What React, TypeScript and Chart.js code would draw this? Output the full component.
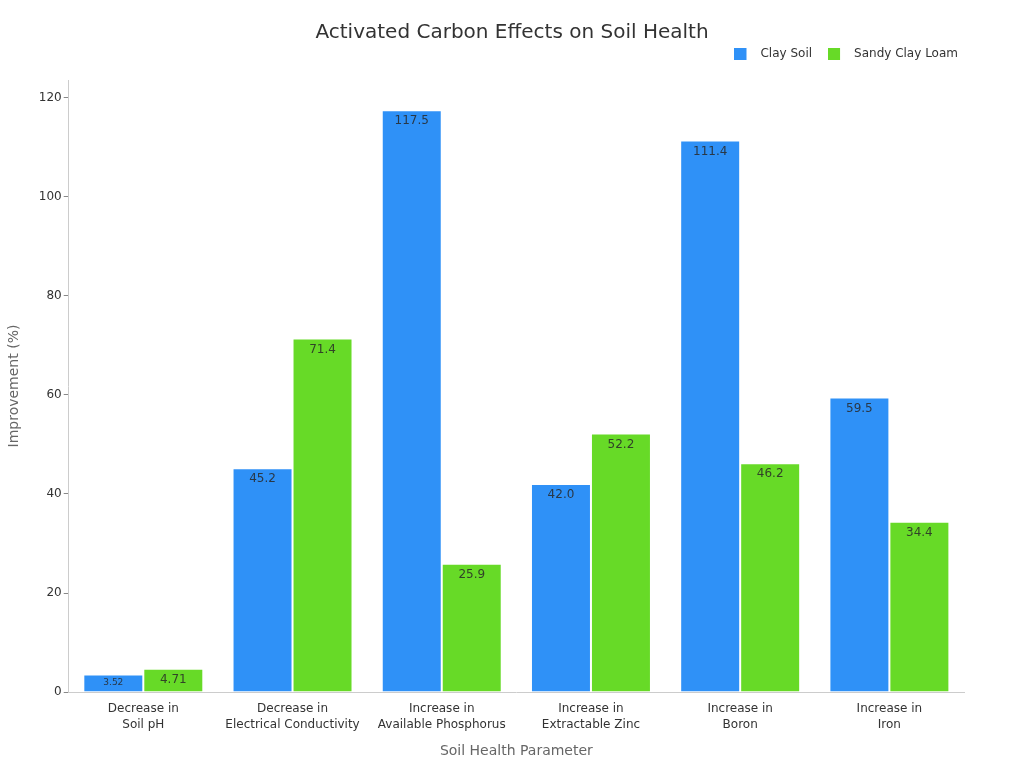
import React, { useEffect, useRef } from 'react';
import { Chart, registerables } from 'chart.js';

Chart.register(...registerables);

const categories: string[][] = [
  ['Decrease in', 'Soil pH'],
  ['Decrease in', 'Electrical Conductivity'],
  ['Increase in', 'Available Phosphorus'],
  ['Increase in', 'Extractable Zinc'],
  ['Increase in', 'Boron'],
  ['Increase in', 'Iron'],
];
const claySoil = [3.52, 45.2, 117.5, 42.0, 111.4, 59.5];
const sandyClayLoam = [4.71, 71.4, 25.9, 52.2, 46.2, 34.4];
const clayLabels = ['3.52', '45.2', '117.5', '42.0', '111.4', '59.5'];
const sandyLabels = ['4.71', '71.4', '25.9', '52.2', '46.2', '34.4'];
const yTicks = [0, 20, 40, 60, 80, 100, 120];

const FONT = "'DejaVu Sans', sans-serif";
const BLUE = '#2F91F7';
const GREEN = '#67DA27';

// draws the value text just inside the top of each bar
const barLabels = {
  id: 'barLabels',
  afterDatasetsDraw(chart: any) {
    const ctx = chart.ctx;
    const texts = [clayLabels, sandyLabels];
    chart.data.datasets.forEach((_ds: any, di: number) => {
      const meta = chart.getDatasetMeta(di);
      meta.data.forEach((bar: any, i: number) => {
        const h = bar.base - bar.y;
        const small = h < 20;
        ctx.save();
        ctx.font = `${small ? 9 : 12}px ${FONT}`;
        ctx.fillStyle = 'rgba(40,40,40,0.85)';
        ctx.textAlign = 'center';
        ctx.textBaseline = 'middle';
        ctx.fillText(texts[di][i], bar.x, bar.y + Math.min(11, h / 2));
        ctx.restore();
      });
    });
  },
};

// title centred on the whole canvas, plus some legend spacing tweaks
const titleAndLegend = {
  id: 'titleAndLegend',
  beforeInit(chart: any) {
    const legend = chart.legend;
    if (!legend) return;
    const fit = legend.fit;
    legend.fit = function () {
      fit.call(this);
      this.height += 10;
    };
  },
  afterLayout(chart: any) {
    if (chart.legend) {
      chart.legend.left += 10;
      chart.legend.right += 10;
    }
  },
  afterDraw(chart: any) {
    const ctx = chart.ctx;
    ctx.save();
    ctx.font = `20px ${FONT}`;
    ctx.fillStyle = '#333';
    ctx.textAlign = 'center';
    ctx.textBaseline = 'middle';
    ctx.fillText('Activated Carbon Effects on Soil Health', chart.width / 2, 33);
    ctx.restore();
  },
};

function legendSwatch(color: string) {
  const c = document.createElement('canvas');
  c.width = 20;
  c.height = 12;
  const g = c.getContext('2d');
  if (g) {
    g.fillStyle = color;
    g.fillRect(0, 0, 12, 12);
  }
  return c;
}

export default function App() {
  const canvasRef = useRef<HTMLCanvasElement>(null);
  const chartRef = useRef<Chart | null>(null);

  useEffect(() => {
    if (!canvasRef.current) return;
    const ctx = canvasRef.current.getContext('2d');
    if (!ctx) return;
    if (chartRef.current) chartRef.current.destroy();

    Chart.defaults.font.family = FONT;
    const swatches = [legendSwatch(BLUE), legendSwatch(GREEN)];

    chartRef.current = new Chart(ctx, {
      type: 'bar',
      data: {
        labels: categories,
        datasets: [
          {
            label: 'Clay Soil',
            data: claySoil,
            backgroundColor: BLUE,
            borderColor: 'rgba(255,255,255,0.7)',
            borderWidth: 1,
          },
          {
            label: 'Sandy Clay Loam',
            data: sandyClayLoam,
            backgroundColor: GREEN,
            borderColor: 'rgba(255,255,255,0.7)',
            borderWidth: 1,
          },
        ],
      },
      options: {
        responsive: true,
        maintainAspectRatio: false,
        animation: false,
        datasets: { bar: { categoryPercentage: 0.804, barPercentage: 1.0 } },
        layout: { padding: { top: 32, right: 60, left: 2, bottom: 8 } },
        plugins: {
          title: { display: false },
          legend: {
            align: 'end',
            labels: {
              usePointStyle: true,
              pointStyleWidth: 20,
              boxHeight: 12,
              color: '#333',
              font: { size: 12 },
              padding: 16,
              generateLabels: (chart: any) => {
                const items = Chart.defaults.plugins.legend.labels.generateLabels(chart);
                items.forEach((it: any, i: number) => {
                  it.pointStyle = swatches[i];
                });
                return items;
              },
            },
          },
          tooltip: { enabled: false },
        },
        scales: {
          x: {
            grid: { display: false, drawTicks: true, tickLength: 5 },
            border: { color: '#ccc' },
            ticks: { color: '#333', font: { size: 12, lineHeight: 1.34 }, padding: 4 },
            title: {
              display: true,
              text: 'Soil Health Parameter',
              color: '#666',
              font: { size: 14 },
              padding: { top: 6, bottom: 0 },
            },
          },
          y: {
            min: 0,
            max: 123.6,
            grid: { drawOnChartArea: false, drawTicks: true, tickLength: 5, color: '#888' },
            border: { color: '#ccc' },
            afterBuildTicks: (scale: any) => {
              scale.ticks = yTicks.map((v) => ({ value: v }));
            },
            ticks: { color: '#333', font: { size: 12 }, padding: 2 },
            title: {
              display: true,
              text: 'Improvement (%)',
              color: '#666',
              font: { size: 14 },
              padding: { top: 4, bottom: 14 },
            },
          },
        },
      },
      plugins: [barLabels, titleAndLegend],
    });

    return () => chartRef.current?.destroy();
  }, []);

  return (
    <div style={{ position: 'fixed', left: 0, top: 0, width: 1024, height: 768, background: '#fff' }}>
      <canvas ref={canvasRef}></canvas>
    </div>
  );
}
